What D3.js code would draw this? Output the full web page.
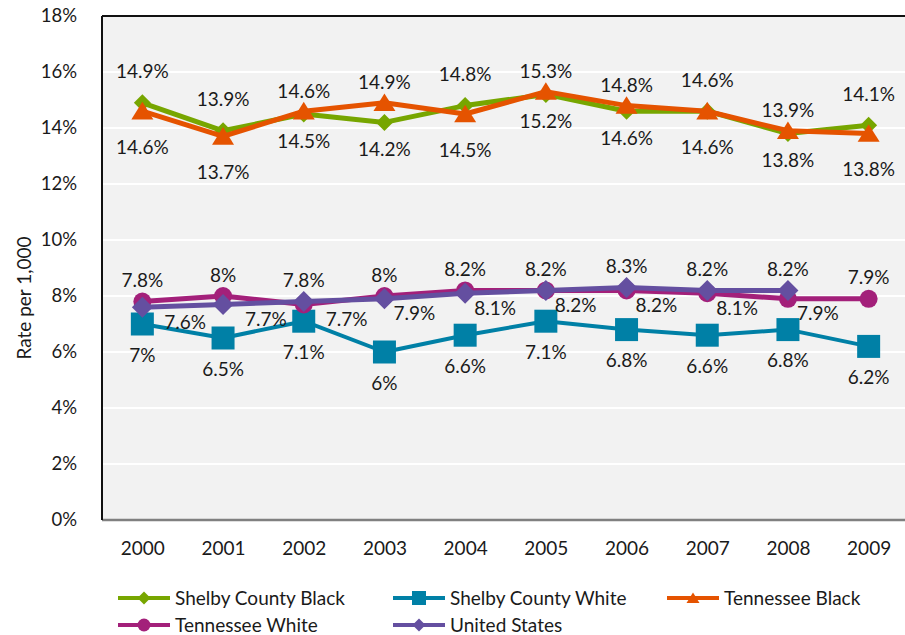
<!DOCTYPE html>
<html><head><meta charset="utf-8">
<script src="https://cdn.jsdelivr.net/npm/d3@7"></script>
<style>body{margin:0;background:#fff}svg{display:block;font-family:Lato,"Open Sans",sans-serif}</style>
</head><body>
<svg id="c" width="905" height="635"></svg>
<script>
const years = ["2000","2001","2002","2003","2004","2005","2006","2007","2008","2009"];
const yTicks = [0,2,4,6,8,10,12,14,16,18];
const shelbyBlack = [14.9,13.9,14.5,14.2,14.8,15.2,14.6,14.6,13.8,14.1];
const shelbyWhite = [7.0,6.5,7.1,6.0,6.6,7.1,6.8,6.6,6.8,6.2];
const tnBlack = [14.6,13.7,14.6,14.9,14.5,15.3,14.8,14.6,13.9,13.8];
const tnWhite = [7.8,8.0,7.7,8.0,8.2,8.2,8.2,8.1,7.9,7.9];
const unitedStates = [7.6,7.7,7.8,7.9,8.1,8.2,8.3,8.2,8.2,null];
const seriesNames = ["Shelby County Black","Shelby County White","Tennessee Black","Tennessee White","United States"];
// label placement: a = above, b = below, r = right
const sbPos = ["a","a","b","b","a","b","b","a","b","a"];
const swPos = ["b","b","b","b","b","b","b","b","b","b"];
const tbPos = ["b","b","a","a","b","a","a","b","a","b"];
const twPos = ["a","a","r","a","a","a","r","r","r","a"];
const usPos = ["r","r","a","r","r","r","a","a","a","r"];

const series = [
  {name:seriesNames[0], values:shelbyBlack, pos:sbPos, color:"#77a600", shape:"diamond", size:17, lw:5, off:{a:-31,b:27}},
  {name:seriesNames[1], values:shelbyWhite, pos:swPos, color:"#0080a6", shape:"square", size:23, lw:4, off:{a:-25,b:31}},
  {name:seriesNames[2], values:tnBlack, pos:tbPos, color:"#e55300", shape:"triangle", size:22, lw:5, off:{a:-20,b:36}},
  {name:seriesNames[3], values:tnWhite, pos:twPos, color:"#a3207a", shape:"circle", size:18, lw:5, off:{a:-21,b:28}},
  {name:seriesNames[4], values:unitedStates, pos:usPos, color:"#644fa0", shape:"diamond", size:21, lw:5, off:{a:-21,b:28}}
];

const svg = d3.select("#c");
const L = 102, R = 909, T = 16, B = 520;
const x = d3.scalePoint().domain(years).range([L, R]).padding(0.5);
const y = d3.scaleLinear().domain([0, 18]).range([B, T]);

svg.append("rect").attr("x", L).attr("y", T).attr("width", R - L).attr("height", B - T).attr("fill", "#f2f2f2");
svg.append("g").selectAll("line").data(yTicks.filter(d => d > 0 && d < 18)).join("line")
  .attr("x1", L).attr("x2", R).attr("y1", d => y(d)).attr("y2", d => y(d))
  .attr("stroke", "#fff").attr("stroke-width", 2);

// axes
const yAxis = d3.axisLeft(y).tickValues(yTicks).tickFormat(d => d + "%").tickSize(0).tickPadding(25);
const gy = svg.append("g").attr("transform", `translate(${L},0)`).call(yAxis);
gy.select(".domain").remove();
gy.selectAll("text").attr("font-size", 18.5).attr("fill", "#1a1a1a").attr("font-family", "Lato, sans-serif");

const xAxis = d3.axisBottom(x).tickSize(0).tickPadding(22);
const gx = svg.append("g").attr("transform", `translate(0,${B})`).call(xAxis);
gx.select(".domain").remove();
gx.selectAll("text").attr("font-size", 19).attr("fill", "#1a1a1a").attr("font-family", "Lato, sans-serif");

svg.append("line").attr("x1", L).attr("x2", R).attr("y1", B).attr("y2", B).attr("stroke", "#808080").attr("stroke-width", 2.5);
svg.append("line").attr("x1", L).attr("x2", R).attr("y1", T).attr("y2", T).attr("stroke", "#111").attr("stroke-width", 2);
svg.append("line").attr("x1", L).attr("x2", L).attr("y1", T).attr("y2", B).attr("stroke", "#111").attr("stroke-width", 2);

svg.append("text").attr("transform", `translate(24,298) rotate(-90)`)
  .attr("text-anchor", "middle").attr("dy", "0.35em").attr("font-size", 19).attr("fill", "#1a1a1a").text("Rate per 1,000");

function symbolPath(shape, size) {
  const h = size / 2;
  if (shape === "diamond") return `M0,${-h}L${h},0L0,${h}L${-h},0Z`;
  if (shape === "square") return `M${-h},${-h}H${h}V${h}H${-h}Z`;
  if (shape === "triangle") return `M0,${-h * 0.85}L${h},${h * 0.75}L${-h},${h * 0.75}Z`;
  return d3.arc()({innerRadius: 0, outerRadius: h, startAngle: 0, endAngle: 2 * Math.PI});
}

const line = d3.line().defined(d => d.v != null).x(d => x(d.year)).y(d => y(d.v));
series.forEach(s => {
  const pts = years.map((yr, i) => ({year: yr, v: s.values[i], pos: s.pos[i], i}));
  const g = svg.append("g");
  g.append("path").datum(pts).attr("d", line).attr("fill", "none").attr("stroke", s.color)
    .attr("stroke-width", s.lw).attr("stroke-linejoin", "round");
  g.selectAll("path.m").data(pts.filter(d => d.v != null)).join("path").attr("class", "m")
    .attr("transform", d => `translate(${x(d.year)},${y(d.v)})`)
    .attr("d", symbolPath(s.shape, s.size)).attr("fill", s.color);
  s.pts = pts;
});

// labels on top
series.forEach(s => {
  svg.append("g").selectAll("text").data(s.pts.filter(d => d.v != null)).join("text")
    .attr("x", d => d.pos === "r" ? x(d.year) + (d.i < 3 ? 22 : 9) : x(d.year))
    .attr("y", d => y(d.v) + (d.pos === "a" ? s.off.a : d.pos === "b" ? s.off.b : 15))
    .attr("dy", "0.35em")
    .attr("text-anchor", d => d.pos === "r" ? "start" : "middle")
    .attr("font-size", 19).attr("fill", "#1a1a1a")
    .text(d => d3.format("")(d.v) + "%");
});

// legend
const legPos = [[118, 598], [393, 598], [667, 598], [118, 625], [393, 625]];
series.forEach((s, i) => {
  const [lx, ly] = legPos[i];
  const g = svg.append("g").attr("transform", `translate(${lx},${ly})`);
  g.append("line").attr("x1", 0).attr("x2", 52).attr("stroke", s.color).attr("stroke-width", 4);
  g.append("path").attr("transform", "translate(26,0)").attr("d", symbolPath(s.shape, s.shape === "square" ? 14 : 13)).attr("fill", s.color);
  g.append("text").attr("x", 57).attr("dy", "0.35em").attr("font-size", 19).attr("fill", "#1a1a1a").text(s.name);
});
</script>
</body></html>
